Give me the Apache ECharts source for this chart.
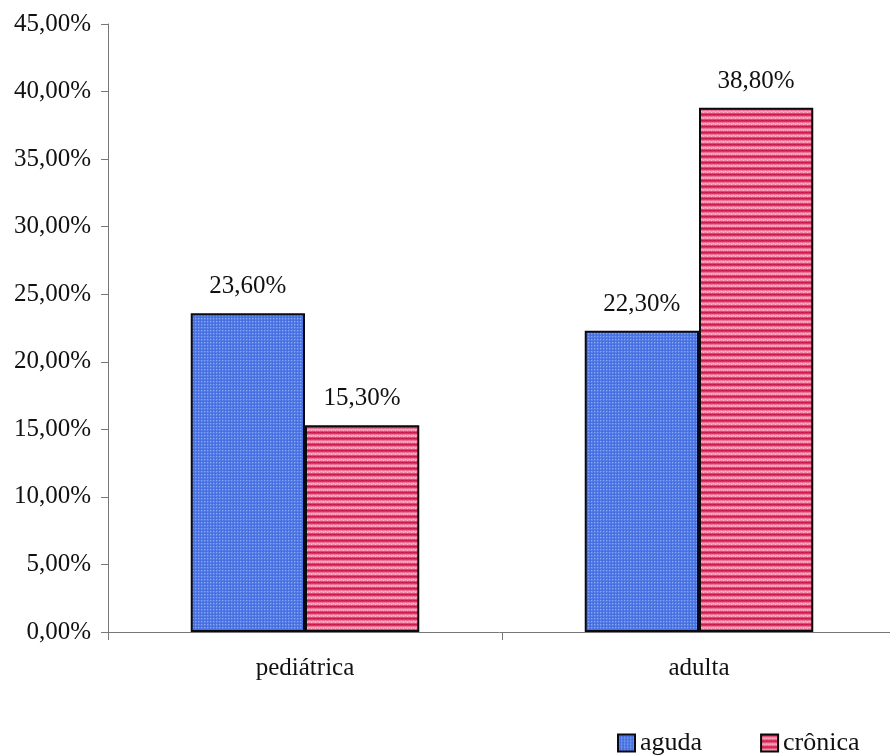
<!DOCTYPE html>
<html>
<head>
<meta charset="utf-8">
<script src="https://cdn.jsdelivr.net/npm/echarts@6/dist/echarts.min.js"></script>
<style>
  html, body { margin: 0; padding: 0; background: #ffffff; }
  #chart { width: 890px; height: 755px; }
</style>
</head>
<body>
<div id="chart"></div>
<script>
// Share of cases (%) by age group and form of the disease
const categories = ['pediátrica', 'adulta'];
const seriesNames = ['aguda', 'crônica'];
const agudaValues = [23.6, 22.3];
const cronicaValues = [15.3, 38.8];
const yTicks = { min: 0, max: 45, interval: 5 };

// Fine woven texture for the blue bars
function bluePattern() {
  const c = document.createElement('canvas');
  c.width = 3; c.height = 3;
  const g = c.getContext('2d');
  g.fillStyle = '#4a76e4'; g.fillRect(0, 0, 3, 3);
  g.fillStyle = '#88a6f2'; g.fillRect(0, 0, 1, 1);
  g.fillStyle = '#5f86ea'; g.fillRect(1, 0, 1, 1); g.fillRect(0, 1, 1, 1);
  g.fillStyle = '#4a66d8'; g.fillRect(2, 2, 1, 1);
  return c;
}

// Horizontal red / pink stripes for the second series
function redPattern() {
  const c = document.createElement('canvas');
  c.width = 4; c.height = 6;
  const g = c.getContext('2d');
  const rows = ['#d41c4c', '#de3460', '#ea7096', '#f29cba', '#ee8aaa', '#e04a70'];
  rows.forEach((col, i) => { g.fillStyle = col; g.fillRect(0, i, 4, 1); });
  g.fillStyle = '#f6bccf'; g.fillRect(1, 3, 1, 1); g.fillRect(3, 4, 1, 1);
  g.fillStyle = '#c21444'; g.fillRect(2, 0, 1, 1);
  return c;
}

const fmt = v => v.toFixed(2).replace('.', ',') + '%';
const serif = '"Liberation Serif", "DejaVu Serif", serif';

const chart = echarts.init(document.getElementById('chart'), null, { renderer: 'canvas' });

const labelStyle = {
  show: true,
  position: 'top',
  distance: 14,
  fontFamily: serif,
  fontSize: 25,
  color: '#111',
  formatter: p => fmt(p.value)
};

chart.setOption({
  animation: false,
  backgroundColor: '#ffffff',
  // plot area runs slightly past the right edge of the canvas
  grid: { left: 108, width: 788, top: 24, bottom: 123, containLabel: false, outerBoundsMode: 'none' },
  legend: {
    data: seriesNames,
    left: 612,
    top: 725,
    itemWidth: 17,
    itemHeight: 17,
    itemGap: 58,
    icon: 'rect',
    textStyle: { fontFamily: serif, fontSize: 26, color: '#111' }
  },
  xAxis: {
    type: 'category',
    data: categories,
    axisLine: { show: true, lineStyle: { color: '#777', width: 1 } },
    axisTick: { show: true, alignWithLabel: false, length: 8, lineStyle: { color: '#777' } },
    axisLabel: { fontFamily: serif, fontSize: 25, color: '#111', margin: 24 },
    splitLine: { show: false }
  },
  yAxis: {
    type: 'value',
    min: yTicks.min,
    max: yTicks.max,
    interval: yTicks.interval,
    axisLine: { show: true, lineStyle: { color: '#777', width: 1 } },
    axisTick: { show: true, length: 7, lineStyle: { color: '#777' } },
    axisLabel: { fontFamily: serif, fontSize: 25, color: '#111', margin: 17, formatter: v => fmt(v) },
    splitLine: { show: false }
  },
  series: [
    {
      name: seriesNames[0],
      type: 'bar',
      data: agudaValues,
      barGap: '0%',
      barCategoryGap: '42%',
      itemStyle: { color: { image: bluePattern(), repeat: 'repeat' }, borderColor: '#0a0a14', borderWidth: 2 },
      label: labelStyle
    },
    {
      name: seriesNames[1],
      type: 'bar',
      data: cronicaValues,
      barGap: '0%',
      barCategoryGap: '42%',
      itemStyle: { color: { image: redPattern(), repeat: 'repeat' }, borderColor: '#0a0a0a', borderWidth: 2 },
      label: labelStyle
    }
  ]
});
</script>
</body>
</html>
